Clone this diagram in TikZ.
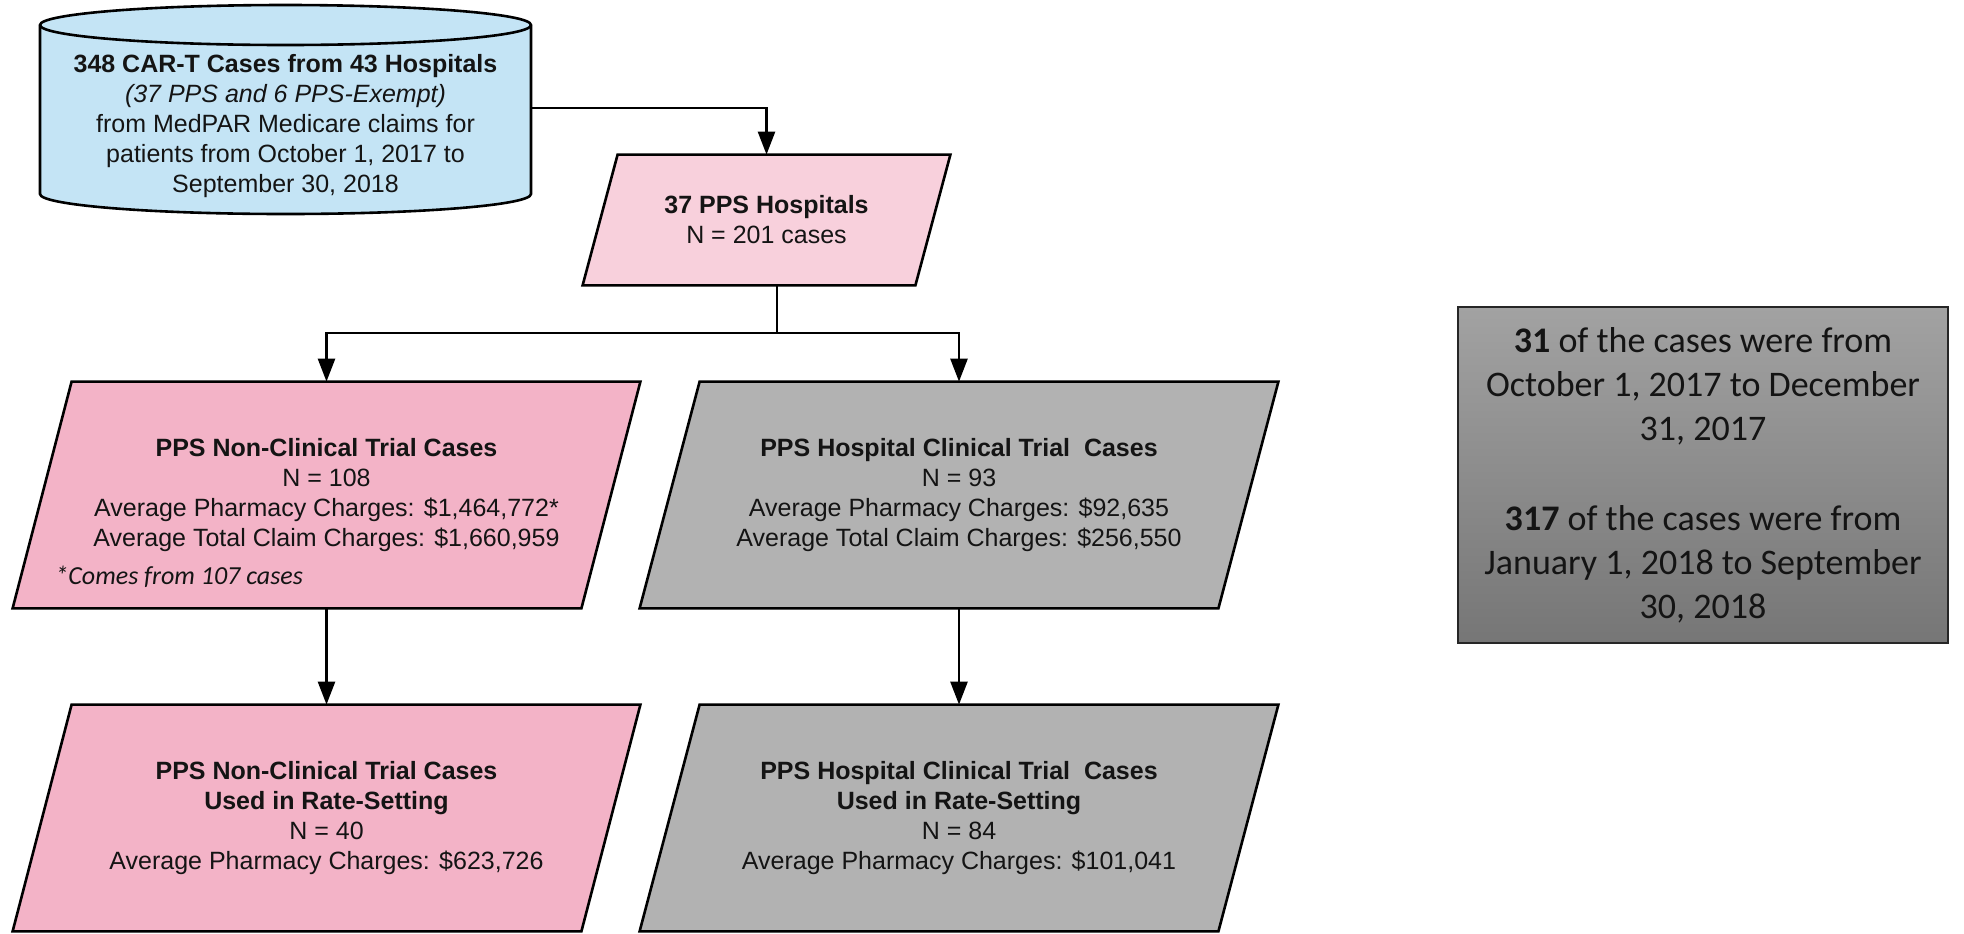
\documentclass[tikz,border=0pt]{standalone}
\usepackage{fontspec}
\setmainfont{Liberation Sans}
\newfontfamily\calib{Carlito}
\usetikzlibrary{arrows.meta,backgrounds,calc}
\definecolor{cylfill}{RGB}{196,228,245}
\definecolor{pinklt}{RGB}{248,208,220}
\definecolor{pinkmd}{RGB}{243,179,199}
\definecolor{grayfill}{RGB}{178,178,178}
\definecolor{notetop}{RGB}{162,162,162}
\definecolor{notebot}{RGB}{118,118,118}
\definecolor{txt}{RGB}{20,20,20}
\newcommand\drawpara[3]{%
  \begin{scope}[on background layer]
    \draw[fill=#3, outline] (#1.south west) -- ($(#1.north west)+(#2,0)$) -- (#1.north east) -- ($(#1.south east)-(#2,0)$) -- cycle;
  \end{scope}}
\begin{document}
\begin{tikzpicture}[x=0.5pt,y=-0.5pt,
  every node/.style={font=\fontsize{12.5pt}{15pt}\selectfont, text=txt, align=center, inner sep=0pt},
  outline/.style={draw=black, line width=1.3pt, line join=miter},
  link/.style={draw=black, line width=1.3pt},
  flow/.style={link, -{Triangle[width=8.5pt,length=11.5pt]}},
  holder/.style={draw=none},
  notebox/.style={draw=black!85, line width=0.8pt, top color=notetop, bottom color=notebot,
    font=\calib\fontsize{18pt}{22pt}\selectfont}
]
\useasboundingbox (0,0) rectangle (1964,933);

% database cylinder
\draw[outline, fill=cylfill] (40,25) -- (40,194)
  arc[start angle=180, end angle=360, x radius=122.75pt, y radius=10pt]
  -- (531,25)
  arc[start angle=0, end angle=180, x radius=122.75pt, y radius=10pt] -- cycle;
\draw[outline] (40,25) arc[start angle=180, end angle=360, x radius=122.75pt, y radius=10pt];
\node[holder, minimum width=245.5pt, minimum height=104pt] (db) at (285.5,108) {};
\node (dbt) at (285.5,126) {\textbf{348 CAR-T Cases from 43 Hospitals}\\\textit{(37 PPS and 6 PPS-Exempt)}\\from MedPAR Medicare claims for\\patients from October 1, 2017 to\\September 30, 2018};

% parallelograms
\node[holder, minimum width=183.5pt, minimum height=65pt] (P0) at (766.5,220)
  {\textbf{37 PPS Hospitals}\\N = 201 cases};
\drawpara{P0}{35}{pinklt}

\node[holder, minimum width=313.5pt, minimum height=113pt] (P1) at (326.5,495)
  {\textbf{PPS Non-Clinical Trial Cases}\\N = 108\\Average Pharmacy Charges: \$1,464,772*\\Average Total Claim Charges: \$1,660,959};
\drawpara{P1}{59}{pinkmd}
\node[anchor=west, font=\calib\itshape\fontsize{13pt}{15pt}\selectfont] (fn) at (55,577) {*Comes from 107 cases};

\node[holder, minimum width=319pt, minimum height=113pt] (P2) at (959,495)
  {\textbf{PPS Hospital Clinical Trial\ \ Cases}\\N = 93\\Average Pharmacy Charges: \$92,635\\Average Total Claim Charges: \$256,550};
\drawpara{P2}{60}{grayfill}

\node[holder, minimum width=313.5pt, minimum height=113pt] (P3) at (326.5,818)
  {\textbf{PPS Non-Clinical Trial Cases}\\\textbf{Used in Rate-Setting}\\N = 40\\Average Pharmacy Charges: \$623,726};
\drawpara{P3}{59}{pinkmd}

\node[holder, minimum width=319pt, minimum height=113pt] (P4) at (959,818)
  {\textbf{PPS Hospital Clinical Trial\ \ Cases}\\\textbf{Used in Rate-Setting}\\N = 84\\Average Pharmacy Charges: \$101,041};
\drawpara{P4}{60}{grayfill}

% note box
\node[notebox, minimum width=245pt, minimum height=168pt] (note) at (1703,475)
  {\textbf{31} of the cases were from\\October 1, 2017 to December\\31, 2017\\[23pt]\textbf{317} of the cases were from\\January 1, 2018 to September\\30, 2018};

% connectors
\draw[flow] (db.east) -| (P0.north);
\coordinate (br) at (777,333);
\draw[link] (P0.south -| br) -- (br);
\draw[flow] (br) -| (P1.north);
\draw[flow] (br) -| (P2.north);
\draw[flow] (P1.south) -- (P3.north);
\draw[flow] (P2.south) -- (P4.north);
\end{tikzpicture}
\end{document}
